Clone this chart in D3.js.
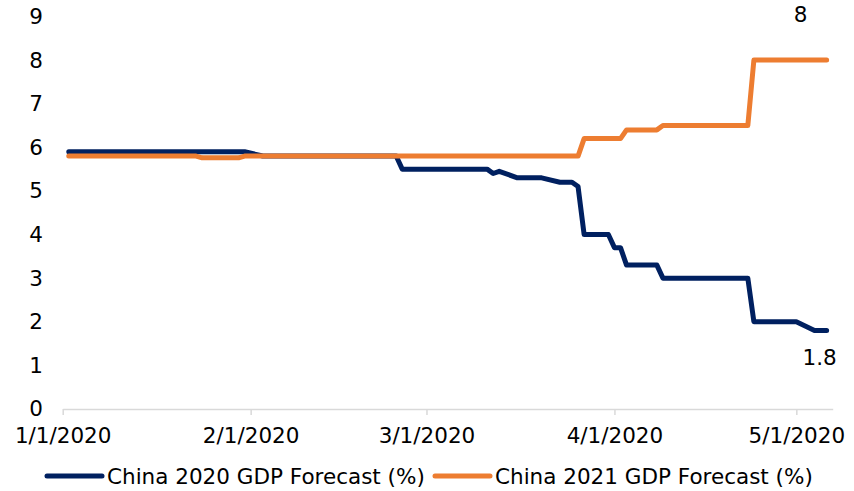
<!DOCTYPE html>
<html>
<head>
<meta charset="utf-8">
<script src="https://cdn.jsdelivr.net/npm/d3@7"></script>
<style>
  body { margin: 0; background: #fff; }
  text { font-family: "DejaVu Sans", Verdana, sans-serif; fill: #000; }
</style>
</head>
<body>
<svg id="line-chart" width="854" height="491"></svg>
<script>
// 数据源
var seriesNames = ['China 2020 GDP Forecast (%)', 'China 2021 GDP Forecast (%)'];

var dates2020 = ['2020-01-02', '2020-01-31', '2020-02-03', '2020-02-25', '2020-02-26', '2020-03-11',
                 '2020-03-12', '2020-03-13', '2020-03-16', '2020-03-20', '2020-03-23', '2020-03-25',
                 '2020-03-26', '2020-03-27', '2020-03-31', '2020-04-01', '2020-04-02', '2020-04-03',
                 '2020-04-08', '2020-04-09', '2020-04-23', '2020-04-24', '2020-05-01', '2020-05-04',
                 '2020-05-06'];
var values2020 = [5.9, 5.9, 5.8, 5.8, 5.5, 5.5,
                  5.4, 5.45, 5.3, 5.3, 5.2, 5.2,
                  5.1, 4.0, 4.0, 3.7, 3.7, 3.3,
                  3.3, 3.0, 3.0, 2.0, 2.0, 1.8,
                  1.8];

var dates2021 = ['2020-01-02', '2020-01-23', '2020-01-24', '2020-01-30', '2020-01-31', '2020-03-26',
                 '2020-03-27', '2020-04-02', '2020-04-03', '2020-04-08', '2020-04-09', '2020-04-23',
                 '2020-04-24', '2020-05-06'];
var values2021 = [5.8, 5.8, 5.76, 5.76, 5.8, 5.8,
                  6.2, 6.2, 6.4, 6.4, 6.5, 6.5,
                  8.0, 8.0];

var yTicks = [0, 1, 2, 3, 4, 5, 6, 7, 8, 9];
var xTickDates = ['2020-01-01', '2020-02-01', '2020-03-01', '2020-04-01', '2020-05-01'];
var xTickLabels = ['1/1/2020', '2/1/2020', '3/1/2020', '4/1/2020', '5/1/2020'];

var colors = ['#002060', '#ED7D31'];
var fontSize = 21.5;

var parseDate = d3.timeParse('%Y-%m-%d');

var data2020 = dates2020.map(function(d, i){
  return { date: parseDate(d), value: values2020[i] };
});
var data2021 = dates2021.map(function(d, i){
  return { date: parseDate(d), value: values2021[i] };
});

// 布局
var svg = d3.select('#line-chart');

var xScale = d3.scaleTime()
               .domain([parseDate('2020-01-01'), parseDate('2020-05-07')])
               .range([62.7, 832.7]);

var yScale = d3.scaleLinear()
               .domain([0, 9])
               .range([409, 16.5]);

// x轴
var xAxis = d3.axisBottom(xScale)
              .tickValues(xTickDates.map(parseDate))
              .tickFormat(function(d, i){ return xTickLabels[i]; })
              .tickSizeInner(6)
              .tickSizeOuter(0)
              .tickPadding(13);

var gx = svg.append('g')
            .attr('class', 'x-axis')
            .attr('transform', 'translate(0,409)')
            .call(xAxis);

gx.select('.domain').attr('stroke', '#d9d9d9').attr('stroke-width', 1.5);
gx.selectAll('.tick line').attr('stroke', '#d9d9d9').attr('stroke-width', 1.5);
gx.selectAll('.tick text')
  .attr('font-size', fontSize)
  .attr('fill', '#000')
  .style('font-family', '"DejaVu Sans", Verdana, sans-serif');

// y轴 (只有标签)
var yAxis = d3.axisLeft(yScale)
              .tickValues(yTicks)
              .tickSize(0)
              .tickPadding(0);

var gy = svg.append('g')
            .attr('class', 'y-axis')
            .attr('transform', 'translate(43,0)')
            .call(yAxis);

gy.select('.domain').remove();
gy.selectAll('.tick text')
  .attr('font-size', fontSize)
  .attr('fill', '#000')
  .style('font-family', '"DejaVu Sans", Verdana, sans-serif');

// 折线
var line = d3.line()
             .x(function(d){ return xScale(d.date); })
             .y(function(d){ return yScale(d.value); });

svg.append('g')
   .attr('class', 'lines')
   .selectAll('path')
   .data([data2020, data2021])
   .enter()
   .append('path')
   .attr('d', line)
   .attr('fill', 'none')
   .attr('stroke', function(d, i){ return colors[i]; })
   .attr('stroke-width', 5)
   .attr('stroke-linejoin', 'round')
   .attr('stroke-linecap', 'round');

// 数据标签
var last2021 = data2021[data2021.length - 1];
var last2020 = data2020[data2020.length - 1];

svg.append('text')
   .attr('x', xScale(last2021.date) - 26)
   .attr('y', yScale(last2021.value) - 46)
   .attr('dy', '0.35em')
   .attr('text-anchor', 'middle')
   .attr('font-size', fontSize)
   .text(last2021.value);

svg.append('text')
   .attr('x', xScale(last2020.date) - 7)
   .attr('y', yScale(last2020.value) + 27)
   .attr('dy', '0.35em')
   .attr('text-anchor', 'middle')
   .attr('font-size', fontSize)
   .text(last2020.value);

// 图例
var legendX = [47, 435];
var legend = svg.append('g')
                .attr('class', 'legend')
                .selectAll('g')
                .data(seriesNames)
                .enter()
                .append('g')
                .attr('transform', function(d, i){ return 'translate(' + legendX[i] + ',476)'; });

legend.append('line')
      .attr('x1', 0)
      .attr('x2', 55)
      .attr('stroke', function(d, i){ return colors[i]; })
      .attr('stroke-width', 5)
      .attr('stroke-linecap', 'round');

legend.append('text')
      .attr('x', 60)
      .attr('dy', '0.35em')
      .attr('font-size', fontSize)
      .text(function(d){ return d; });
</script>
</body>
</html>
